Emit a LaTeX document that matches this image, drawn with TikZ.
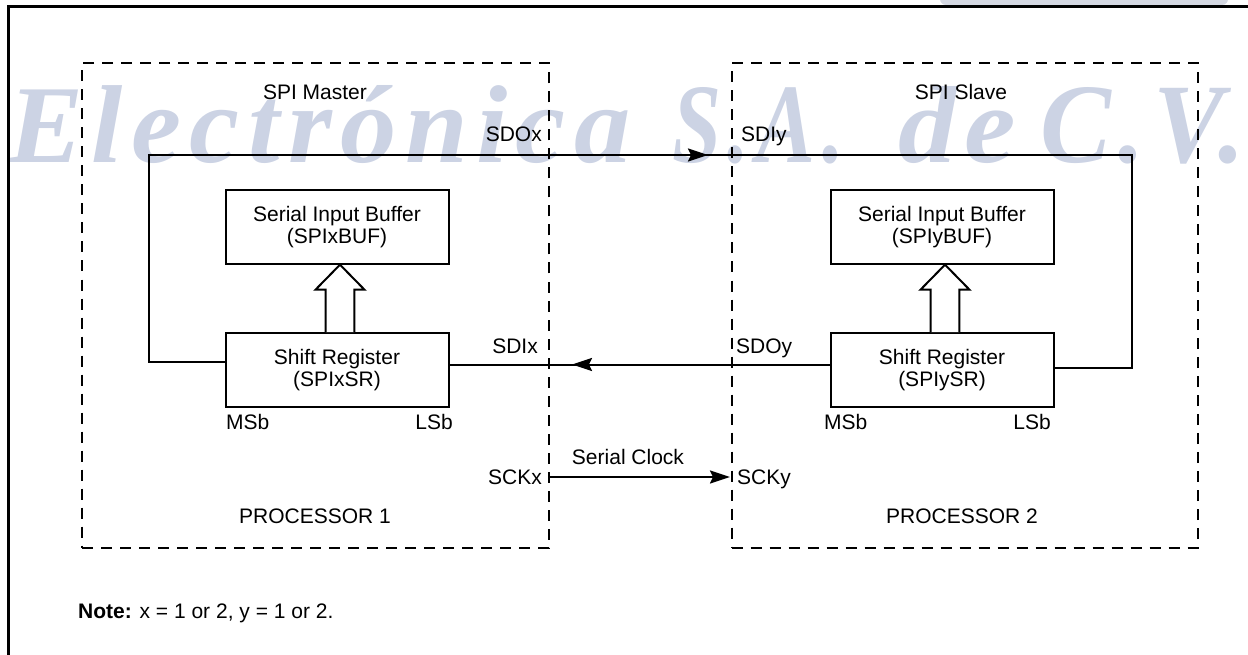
\documentclass[tikz,border=0pt]{standalone}
\usepackage{graphicx}
\usepackage{fontspec}
\setmainfont{Liberation Sans}
\newfontfamily\wmfont{Liberation Serif}[FakeStretch=0.8,LetterSpace=6]
\usetikzlibrary{arrows.meta,calc}
\definecolor{wm}{RGB}{204,211,228}
\definecolor{band}{RGB}{212,216,226}
\newcommand{\dlbl}{\fontsize{21}{22}\selectfont}
\newcommand{\hollowup}[3]{%
  \draw[line,fill=white] ($(#1.north)+(#3-14.3,0)$) -- ($(#2.south)+(#3-14.3,25)$)
    -- ($(#2.south)+(#3-24.5,25)$) -- ($(#2.south)+(#3,0)$)
    -- ($(#2.south)+(#3+24.5,25)$) -- ($(#2.south)+(#3+14.3,25)$)
    -- ($(#1.north)+(#3+14.3,0)$);}
\begin{document}
\begin{tikzpicture}[x=1pt,y=-1pt,
  line/.style={line width=2pt},
  box/.style={draw,line width=2pt,minimum width=223pt,minimum height=74pt,inner sep=0pt,align=center,font=\dlbl},
  dbox/.style={draw,line width=2pt,dash pattern=on 11pt off 8pt,inner sep=0pt},
  lbl/.style={font=\dlbl,inner sep=0pt},
  wmtxt/.style={text=wm,inner sep=0pt,font=\wmfont\bfseries\itshape},
  tip/.style={-{Stealth[length=20pt,width=13pt,inset=3pt]}}]
\useasboundingbox (0,0) rectangle (1248,655);
% watermark
\begin{scope}
\clip (0,0) rectangle (1248,655);
\fill[band,rounded corners=6pt] (940,-20) rectangle (1228,5);
\node[wmtxt,anchor=base west] (wm1) at (8,163) {\resizebox{622pt}{77pt}{Electrónica}};
\node[wmtxt,anchor=base west] (wm2) at (672,163) {\resizebox{172pt}{75pt}{S.A.}};
\node[wmtxt,anchor=base west] (wm3) at (898,163) {\resizebox{118pt}{76pt}{de}};
\node[wmtxt,anchor=base west] (wm4) at (1040,163) {\resizebox{205pt}{75pt}{C.V.}};
\end{scope}
% frame
\draw[line width=2.5pt] (8.5,655) -- (8.5,6.5) -- (1248,6.5);
% processor boxes
\node[dbox,minimum width=467pt,minimum height=484pt] (p1) at (315.5,305.5) {};
\node[dbox,minimum width=466.5pt,minimum height=484pt] (p2) at (964.75,305.5) {};
% inner boxes
\node[box] (buf1) at (337,226.7) {Serial Input Buffer\\(SPIxBUF)};
\node[box] (sr1) at (337,370) {Shift Register\\(SPIxSR)};
\node[box] (buf2) at (942,226.7) {Serial Input Buffer\\(SPIyBUF)};
\node[box] (sr2) at (942,370) {Shift Register\\(SPIySR)};
\hollowup{sr1}{buf1}{3}
\hollowup{sr2}{buf2}{3}
% loop SDOx -> SDIy
\coordinate (l2) at (148.7,155);
\coordinate (r2) at (1132,155);
\coordinate (tA) at (708,155);
\draw[line] ([yshift=8pt]sr1.west) -| (l2) -- (r2) |- ([yshift=2pt]sr2.east);
\draw[line,tip] ([xshift=-20pt]tA) -- (tA);
% SDOy -> SDIx
\coordinate (tB) at (572,364.5);
\draw[line] ([yshift=5.5pt]sr1.east) -- ([yshift=5.5pt]sr2.west);
\draw[line,tip] ([xshift=20pt]tB) -- (tB);
% serial clock
\coordinate (ck1) at (549,477);
\coordinate (ck2) at (730,477);
\draw[line,tip] (ck1) -- (ck2);
% labels
\node[lbl,anchor=base] (tm) at (315,100) {SPI Master};
\node[lbl,anchor=base] (ts) at (961,100) {SPI Slave};
\node[lbl,anchor=base east] (sdox) at (542,142) {SDOx};
\node[lbl,anchor=base west] (sdiy) at (741,142) {SDIy};
\node[lbl,anchor=base east] (sdix) at (538,353) {SDIx};
\node[lbl,anchor=base west] (sdoy) at (736,353) {SDOy};
\node[lbl,anchor=base west] (msb1) at (226,429) {MSb};
\node[lbl,anchor=base east] (lsb1) at (453,429) {LSb};
\node[lbl,anchor=base west] (msb2) at (824,429) {MSb};
\node[lbl,anchor=base east] (lsb2) at (1051,429) {LSb};
\node[lbl,anchor=base] (sclk) at (628,464) {Serial Clock};
\node[lbl,anchor=base east] (sckx) at (542,484) {SCKx};
\node[lbl,anchor=base west] (scky) at (737,484) {SCKy};
\node[lbl,anchor=base] (pr1) at (315,523) {PROCESSOR 1};
\node[lbl,anchor=base] (pr2) at (962,523) {PROCESSOR 2};
\node[lbl,anchor=base west] (note) at (78,618) {\textbf{Note:} x = 1 or 2, y = 1 or 2.};
\end{tikzpicture}
\end{document}
